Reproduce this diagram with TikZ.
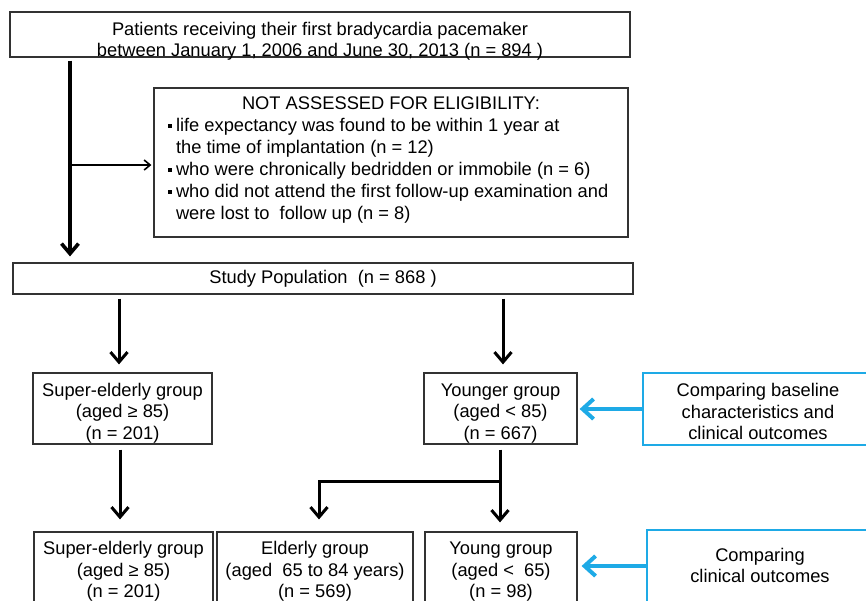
\documentclass[tikz,border=0pt]{standalone}
\usepackage{fontspec}
\setmainfont{Liberation Sans}
\usetikzlibrary{arrows.meta}
\definecolor{cyanb}{RGB}{30,170,230}
\definecolor{boxline}{RGB}{50,50,50}
\newcommand{\ml}[2]{\raisebox{#1}[\height][\depth]{\begin{tabular}{@{}c@{}}#2\end{tabular}}}
\newcommand{\bul}{\makebox[12pt][c]{\raisebox{4pt}{\rule{3.6pt}{3.6pt}}}}
\begin{document}
\begin{tikzpicture}[x=1pt,y=-1pt,
  box/.style={draw=boxline, line width=1.2pt, inner sep=0pt, font=\fontsize{18.3}{21.5}\selectfont},
  bbox/.style={box, draw=cyanb},
  arr/.style={line width=3pt, -{Straight Barb[length=10pt,width=17pt]}},
  sarr/.style={line width=1.6pt, -{Straight Barb[length=6pt,width=10pt]}},
  barr/.style={draw=cyanb, line width=4pt, -{Straight Barb[length=11pt,width=20pt]}}]
\clip (0,0) rectangle (866,600);
\fill[white] (0,0) rectangle (866,600);
% nodes
\node[box, minimum width=620, minimum height=45] (top) at (320,34.5)
  {\ml{-7pt}{Patients receiving their first bradycardia pacemaker\\ between January 1, 2006 and June 30, 2013 (n = 894 )}};
\node[box, minimum width=474, minimum height=149] (na) at (391,162.5)
  {\raisebox{2pt}[\height][\depth]{\def\arraystretch{1.023}\begin{tabular}{@{}l@{}}\makebox[454pt][c]{NOT ASSESSED FOR ELIGIBILITY:}\\
  \bul life expectancy was found to be within 1 year at\\
  \hspace{12pt}the time of implantation (n = 12)\\
  \bul who were chronically bedridden or immobile (n = 6)\\
  \bul who did not attend the first follow-up examination and\\
  \hspace{12pt}were lost to~~follow up (n = 8)\end{tabular}}};
\node[box, minimum width=620, minimum height=31] (study) at (323,278.5)
  {Study Population~~(n = 868 )};
\node[box, minimum width=179, minimum height=71] (se1) at (122.5,408.5)
  {\ml{-5pt}{Super-elderly group\\(aged ≥ 85)\\(n = 201)}};
\node[box, minimum width=153, minimum height=71] (yg1) at (500.5,408.5)
  {\ml{-5pt}{Younger group\\(aged < 85)\\(n = 667)}};
\node[bbox, minimum width=230, minimum height=72] (cmp1) at (758,409)
  {\ml{-5pt}{Comparing baseline\\characteristics and\\clinical outcomes}};
\node[box, minimum width=179, minimum height=80] (se2) at (123.5,572)
  {\ml{0pt}{Super-elderly group\\(aged ≥ 85)\\(n = 201)}};
\node[box, minimum width=196, minimum height=80] (eld) at (315,572)
  {\ml{0pt}{Elderly group\\(aged~~65 to 84 years)\\(n = 569)}};
\node[box, minimum width=152, minimum height=80] (yng) at (501,572)
  {\ml{0pt}{Young group\\(aged <~~65)\\(n = 98)}};
\node[bbox, minimum width=226, minimum height=82] (cmp2) at (760,571)
  {\ml{3.5pt}{Comparing\\clinical outcomes}};
% helper coordinates
\coordinate (c1) at (70,0);
\coordinate (c1b) at (70,165);
\coordinate (c2) at (119,0);
\coordinate (c3) at (503,0);
\coordinate (c4) at (120,0);
\coordinate (c5) at (500,0);
\coordinate (c6) at (500,481);
\coordinate (c7) at (319,0);
\coordinate (c8) at (0,566);
% connectors
\draw[arr, line width=3.6pt, shorten <=3pt, shorten >=6pt] (top.south -| c1) -- (study.north -| c1);
\draw[sarr, shorten >=2pt] (c1b) -- (c1b -| na.west);
\draw[arr, shorten <=4pt, shorten >=8pt] (study.south -| c2) -- (se1.north -| c2);
\draw[arr, shorten <=4pt, shorten >=8pt] (study.south -| c3) -- (yg1.north -| c3);
\draw[arr, shorten <=5pt, shorten >=12pt] (se1.south -| c4) -- (se2.north -| c4);
\draw[arr, shorten <=5pt, shorten >=9pt] (yg1.south -| c5) -- (yng.north -| c5);
\draw[arr, shorten >=12pt] (c6) -| (eld.north -| c7);
\draw[barr, shorten >=2pt] (cmp1.west) -- (yg1.east |- cmp1.west);
\draw[barr, shorten >=4pt] (c8 -| cmp2.west) -- (c8 -| yng.east);
\end{tikzpicture}
\end{document}
